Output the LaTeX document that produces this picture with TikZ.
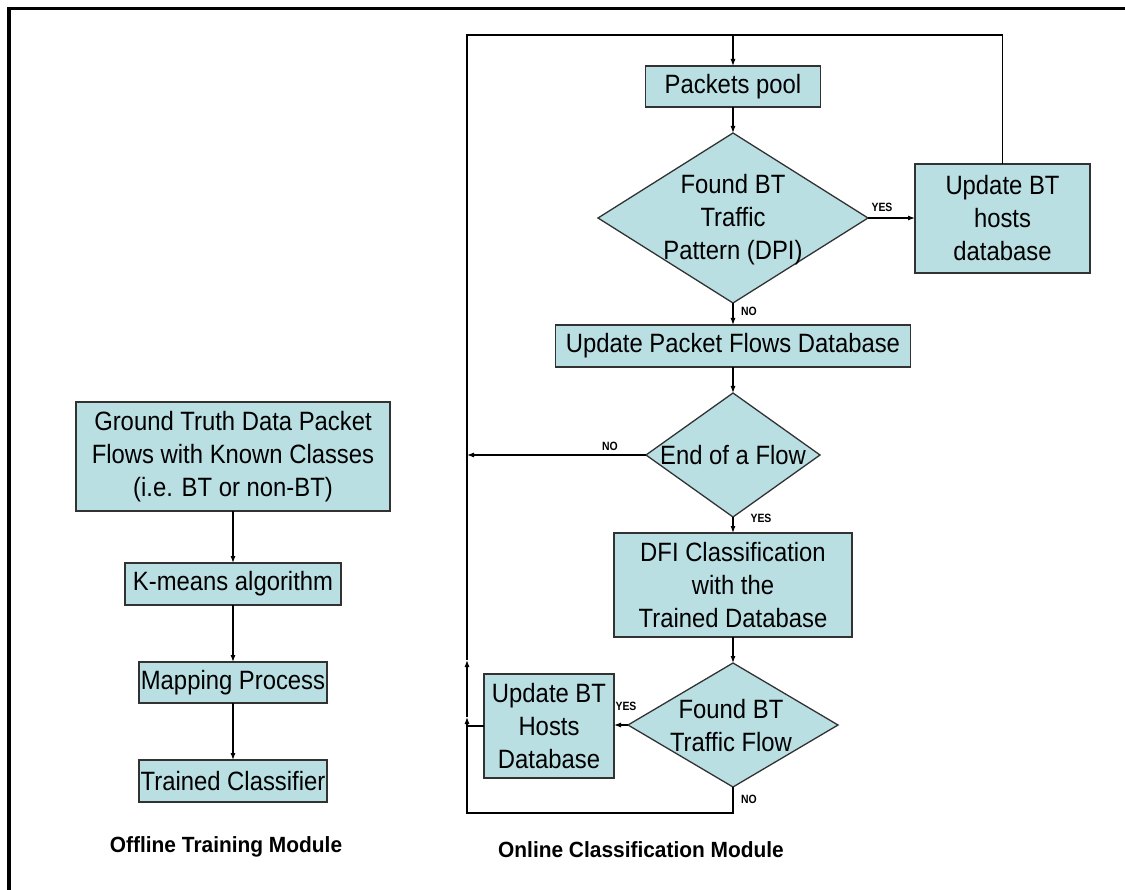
\documentclass[tikz,border=0pt]{standalone}
\usepackage{fontspec}
\setmainfont[FakeStretch=0.9]{Liberation Sans}
\newfontfamily\tagfont[FakeStretch=0.87]{Liberation Sans}
\newfontfamily\headfont[FakeStretch=0.95]{Liberation Sans}
\usetikzlibrary{shapes.geometric,arrows.meta}
\definecolor{boxfill}{RGB}{185,223,227}
\definecolor{edge}{RGB}{50,50,50}

\begin{document}
\begin{tikzpicture}[x=1pt,y=-1pt,
  every node/.style={inner sep=0pt, outer sep=0pt},
  proc/.style={draw=edge, line width=1.3pt, fill=boxfill, align=center,
    font=\fontsize{26.5}{33}\selectfont},
  dec/.style={diamond, draw=edge, line width=1.3pt, fill=boxfill},
  dectext/.style={align=center, font=\fontsize{26.5}{33}\selectfont},
  flow/.style={line width=1.1pt, draw=black},
  arr/.style={flow, -{Latex[length=7pt,width=5pt]}},
  tag/.style={font=\tagfont\bfseries\fontsize{12}{14}\selectfont},
  title/.style={font=\headfont\bfseries\fontsize{22}{26}\selectfont}
]
\useasboundingbox (0,0) rectangle (1125,890);

% outer frame (top and left edges)
\draw[line width=3.5pt] (9,895) -- (9,8.5) -- (1130,8.5);

% offline training column
\node[proc, minimum width=314pt, minimum height=109pt] (gt) at (233,456.5)
  {Ground Truth Data Packet\\Flows with Known Classes\\(i.e. BT or non-BT)};
\node[proc, minimum width=216pt, minimum height=42pt] (km) at (233,584) {K-means algorithm};
\node[proc, minimum width=188pt, minimum height=41pt] (mp) at (233,682.5) {Mapping Process};
\node[proc, minimum width=188pt, minimum height=42pt] (tc) at (233,781) {Trained Classifier};
\node[title] (offt) at (226,847) {Offline Training Module};

\draw[arr] (gt) -- (km);
\draw[arr] (km) -- (mp);
\draw[arr] (mp) -- (tc);

% online classification column
\node[proc, minimum width=175pt, minimum height=41pt] (pp) at (733,86.5) {Packets pool};
\node[dec, minimum width=270pt, minimum height=170pt] (d1) at (733,218) {};
\node[dectext] (d1t) at (733,220) {Found BT\\Traffic\\Pattern (DPI)};
\node[proc, minimum width=175pt, minimum height=109pt] (hb1) at (1002.5,218.5)
  {Update BT\\hosts\\database};
\node[proc, minimum width=355pt, minimum height=42pt] (upf) at (733,346)
  {Update Packet Flows Database};
\node[dec, minimum width=174pt, minimum height=124pt] (d2) at (733,455) {};
\node[dectext] (d2t) at (733,455) {End of a Flow};
\node[proc, minimum width=238pt, minimum height=104pt] (dfi) at (733,585)
  {DFI Classification\\with the\\Trained Database};
\node[dec, minimum width=210pt, minimum height=124pt] (d3) at (733,725) {};
\node[dectext] (d3t) at (731,726) {Found BT\\Traffic Flow};
\node[proc, minimum width=130pt, minimum height=104pt] (hb2) at (549,726)
  {Update BT\\Hosts\\Database};
\node[title] (ont) at (641,850) {Online Classification Module};

% loop-back coordinates
\coordinate (top) at (733,35);
\coordinate (topL) at (467,35);
\coordinate (noL) at (467,455);
\coordinate (botL) at (467,813);
\coordinate (jn) at (467,726);
\coordinate (up1) at (467,717);
\coordinate (up2) at (467,660);

\draw[arr] (hb1.north) |- (top) -- (pp.north);
\draw[arr] (pp.south) -- (d1.north);
\draw[arr] (d1.east) -- (hb1.west |- d1.east);
\draw[arr] (d1.south) -- (upf.north);
\draw[arr] (upf.south) -- (d2.north);
\draw[arr] (d2.west) -- (noL);
\draw[arr] (d2.south) -- (dfi.north);
\draw[arr] (dfi.south) -- (d3.north);
\draw[arr] (d3.west) -- (d3.west -| hb2.east);
\draw[flow] (d3.south) |- (botL) -- (jn);
\draw[arr] (hb2.west) -- (jn) -- (up1);
\draw[arr] (up1) -- (up2);
\draw[flow] (up2) -- (topL) -- (top);

% branch labels
\node[tag] (y1) at (882,207) {YES};
\node[tag] (n1) at (749,311) {NO};
\node[tag] (n2) at (610,446) {NO};
\node[tag] (y2) at (761,518) {YES};
\node[tag] (y3) at (626,706) {YES};
\node[tag] (n3) at (749,799) {NO};
\end{tikzpicture}
\end{document}
